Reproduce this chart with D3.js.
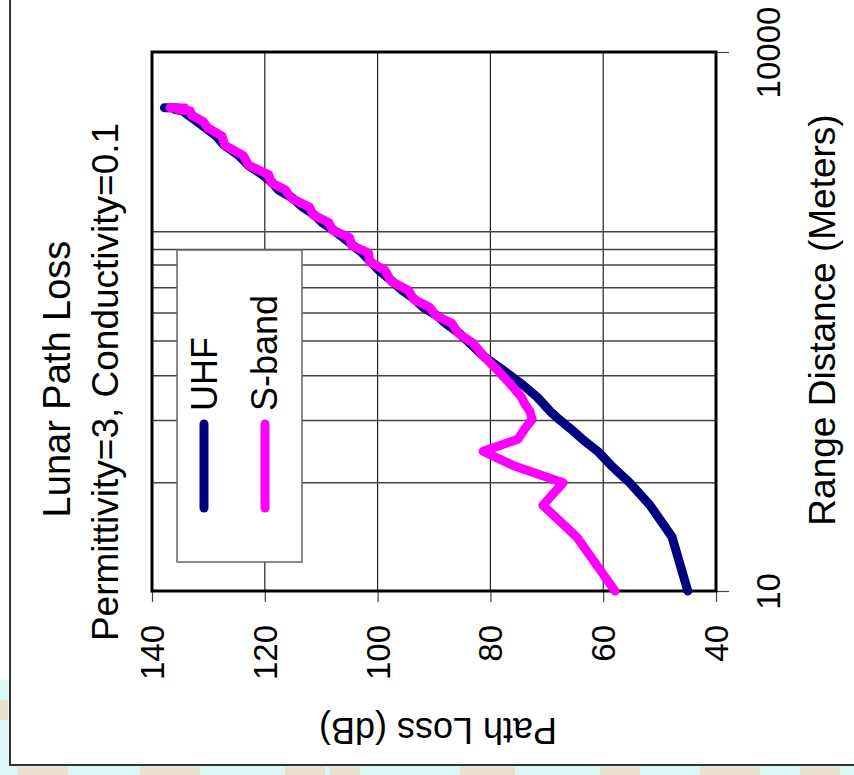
<!DOCTYPE html>
<html><head><meta charset="utf-8">
<script src="https://cdn.jsdelivr.net/npm/d3@7"></script>
<style>
body{margin:0;background:#fff}
svg{display:block}
text{font-family:"Liberation Sans",Arial,Helvetica,sans-serif;fill:#000}
</style>
</head><body>
<svg id="chart" width="854" height="775"></svg>
<script>
// ---- data ----
const distances = [10,20,30,40,50,60,70,80,90,100,110,120,140,170,200,240,270,310,340,380,420,470,530,610,680,760,840,930,1020,1120,1240,1370,1530,1710,1880,2070,2350,2650,3030,3400,3780,4100,4460,4700,4800,4880,4900];
const uhfLoss   = [45.0,47.8,51.7,55.3,58.6,61.0,63.7,65.8,67.8,69.4,70.6,71.7,74.2,77.8,81.0,83.7,85.4,88.0,89.4,92.0,93.4,95.6,97.4,99.8,101.2,102.7,104.4,106.2,107.8,109.8,111.2,113.3,115.0,117.6,118.7,120.4,123.0,124.6,127.2,128.6,130.5,132.0,133.6,134.6,136.0,135.4,137.8];
const sbandLoss = [57.9,64.7,70.7,67.1,76.0,81.3,75.1,73.9,72.6,73.0,73.9,74.5,76.3,78.8,81.0,83.1,85.6,86.9,89.6,90.8,93.6,94.5,97.6,98.7,101.4,101.6,104.6,105.0,108.0,108.6,111.4,112.1,115.2,116.4,118.9,119.3,122.9,123.8,127.1,127.6,130.1,130.9,133.0,133.2,135.6,134.2,136.8];
const seriesNames = ["UHF","S-band"];
const lossTicks = [140,120,100,80,60,40];
const lossGrid = [120,100,80,60];
const distTicks = [10,10000];
const distGrid = [1000,796,652,488,353,246,158,89,40];
const titleText = "Lunar Path Loss";
const subtitleText = "Permittivity=3, Conductivity=0.1";
const distTitle = "Range Distance (Meters)";
const lossTitle = "Path Loss (dB)";

const colors = {"UHF":"#000080","S-band":"#ff00ff"};
const series = [
  {name: seriesNames[0], values: distances.map((d,i)=>({d, l: uhfLoss[i]}))},
  {name: seriesNames[1], values: distances.map((d,i)=>({d, l: sbandLoss[i]}))}
];

const svg = d3.select("#chart");

// slide background strips
const bg = svg.append("g");
bg.append("rect").attr("x",0).attr("y",766).attr("width",854).attr("height",9).attr("fill","#dcf6f6");
bg.append("rect").attr("x",0).attr("y",680).attr("width",10).attr("height",95).attr("fill","#dcf6f6");
[[18,50],[140,60],[285,40],[330,30],[460,55],[600,40],[700,60],[800,40]].forEach(([x0,w])=>{
  bg.append("rect").attr("x",x0).attr("y",767).attr("width",w).attr("height",8).attr("fill","#ecdcc2").attr("opacity",0.8);
});
bg.append("rect").attr("x",0).attr("y",700).attr("width",8).attr("height",20).attr("fill","#ecdcc2").attr("opacity",0.7);
// outer frame
svg.append("path").attr("d","M10,0 L10,765 L854,765").attr("fill","none").attr("stroke","#333").attr("stroke-width",2);

// scales (chart is rotated: distance runs bottom->top, loss runs right->left)
const x = d3.scaleLinear().domain([40,140]).range([716,152]);
const y = d3.scaleLog().domain([10,10000]).range([591,52]);

// gridlines
const grid = svg.append("g");
grid.selectAll("line.v").data(lossGrid).join("line")
  .attr("x1",d=>x(d)).attr("x2",d=>x(d)).attr("y1",52).attr("y2",591)
  .attr("stroke","#222").attr("stroke-width",1.2);
grid.selectAll("line.h").data(distGrid).join("line")
  .attr("x1",152).attr("x2",716).attr("y1",d=>y(d)).attr("y2",d=>y(d))
  .attr("stroke","#444").attr("stroke-width",1.5);

// axes
const ax = svg.append("g").attr("transform","translate(0,591)")
  .call(d3.axisBottom(x).tickValues(lossTicks).tickSize(11).tickFormat(d3.format("d")));
ax.select(".domain").remove();
ax.selectAll(".tick line").attr("stroke","#444").attr("stroke-width",1.2);
ax.selectAll(".tick text").attr("font-size",33).attr("x",0).attr("y",0).attr("dy","0.35em")
  .attr("text-anchor","end").attr("transform","translate(0,34) rotate(-90)");

const ay = svg.append("g").attr("transform","translate(716,0)")
  .call(d3.axisRight(y).tickValues(distTicks).tickSize(13).tickFormat(d3.format("d")));
ay.select(".domain").remove();
ay.selectAll(".tick line").attr("stroke","#444").attr("stroke-width",1.2);
ay.selectAll(".tick text").attr("font-size",33).attr("x",0).attr("y",0).attr("dy","0.35em")
  .attr("text-anchor","middle").attr("transform","translate(52,0) rotate(-90)");

// plot frame
svg.append("rect").attr("x",152).attr("y",52).attr("width",564).attr("height",539)
  .attr("fill","none").attr("stroke","#000").attr("stroke-width",3);

// data lines
const line = d3.line().x(p=>x(p.l)).y(p=>y(p.d));
svg.append("g").selectAll("path").data(series).join("path")
  .attr("d",s=>line(s.values)).attr("fill","none")
  .attr("stroke",s=>colors[s.name]).attr("stroke-width",9)
  .attr("stroke-linejoin","round").attr("stroke-linecap","round");

// legend
const lg = svg.append("g");
lg.append("rect").attr("x",177).attr("y",250).attr("width",125).attr("height",312)
  .attr("fill","#fff").attr("stroke","#666").attr("stroke-width",1.5);
const legX = [[204,217],[265,277]];
series.forEach((s,i)=>{
  lg.append("line").attr("x1",legX[i][0]).attr("x2",legX[i][0]).attr("y1",424).attr("y2",508)
    .attr("stroke",colors[s.name]).attr("stroke-width",9).attr("stroke-linecap","round");
  lg.append("text").attr("transform",`translate(${legX[i][1]},411) rotate(-90)`)
    .attr("font-size",36).attr("text-anchor","start").text(s.name);
});

// titles
svg.append("text").attr("transform","translate(70,379) rotate(-90)").attr("font-size",38)
  .attr("text-anchor","middle").text(titleText);
svg.append("text").attr("transform","translate(118,382) rotate(-90)").attr("font-size",37)
  .attr("text-anchor","middle").text(subtitleText);
svg.append("text").attr("transform","translate(835,320) rotate(-90)").attr("font-size",37)
  .attr("text-anchor","middle").text(distTitle);
svg.append("text").attr("transform","translate(438,718) rotate(180)").attr("font-size",36)
  .attr("text-anchor","middle").text(lossTitle);
</script>
</body></html>
